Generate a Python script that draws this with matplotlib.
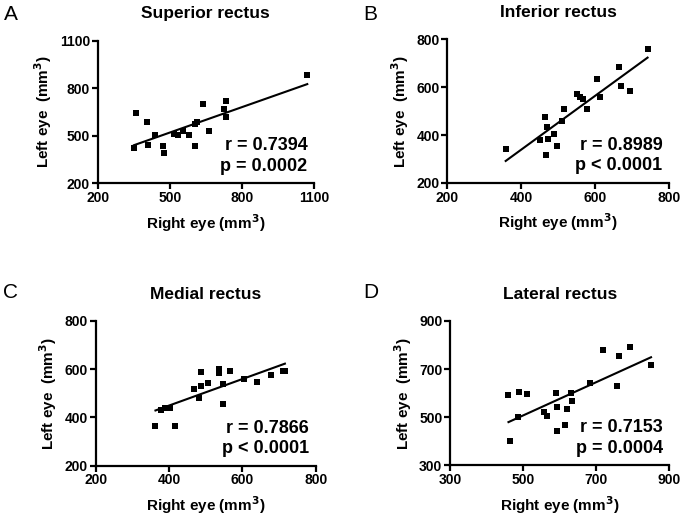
import numpy as np
import matplotlib
matplotlib.use("Agg")
import matplotlib.pyplot as plt

plt.rcParams['font.family'] = ['Liberation Sans', 'DejaVu Sans']

# Superior rectus
sr_right = [351, 361, 404, 408, 438, 470, 477, 516, 535, 556, 578, 604, 603, 615, 640, 664, 725, 734, 732, 1072]
sr_left = [425, 646, 587, 442, 505, 438, 389, 511, 503, 530, 503, 438, 574, 587, 698, 532, 667, 721, 621, 881]

# Inferior rectus
ir_right = [358, 465, 469, 451, 473, 488, 497, 467, 510, 516, 551, 558, 567, 578, 605, 613, 664, 669, 695, 742]
ir_left = [343, 474, 435, 380, 384, 403, 355, 318, 460, 508, 570, 561, 551, 511, 636, 561, 683, 606, 586, 758]

# Medial rectus
mr_right = [363, 377, 389, 403, 415, 469, 483, 488, 505, 486, 535, 535, 566, 548, 548, 605, 641, 678, 712, 716]
mr_left = [365, 429, 441, 438, 365, 517, 482, 531, 542, 590, 601, 583, 592, 539, 456, 558, 548, 576, 594, 594]

# Lateral rectus
lr_right = [460, 465, 485, 488, 512, 556, 566, 589, 593, 593, 615, 619, 632, 634, 684, 718, 756, 763, 793, 850]
lr_left = [592, 403, 499, 603, 596, 520, 507, 599, 543, 442, 468, 533, 600, 568, 643, 779, 628, 755, 791, 716]

titles = ['Superior rectus', 'Inferior rectus', 'Medial rectus', 'Lateral rectus']
letters = ['A', 'B', 'C', 'D']
stats = ['r = 0.7394\np = 0.0002', 'r = 0.8989\np < 0.0001',
         'r = 0.7866\np < 0.0001', 'r = 0.7153\np = 0.0004']
xticks = [[200, 500, 800, 1100], [200, 400, 600, 800], [200, 400, 600, 800], [300, 500, 700, 900]]
yticks = [[200, 500, 800, 1100], [200, 400, 600, 800], [200, 400, 600, 800], [300, 500, 700, 900]]
data = [(sr_right, sr_left), (ir_right, ir_left), (mr_right, mr_left), (lr_right, lr_left)]

W, H = 685, 517
fig = plt.figure(figsize=(W / 100, H / 100), dpi=100)

# axes boxes in pixels: left, top, right, bottom
boxes = [(97.7, 40.7, 314, 183.3), (447.3, 39.3, 669, 183),
         (95.7, 321, 315.7, 465.7), (450, 321, 669.3, 465.3)]
letter_pos = [(4, 14), (363, 14), (3, 292), (363, 292)]

for i in range(4):
    l, t, r, b = boxes[i]
    ax = fig.add_axes([l / W, 1 - b / H, (r - l) / W, (b - t) / H])
    x = np.array(data[i][0])
    y = np.array(data[i][1])
    ax.scatter(x, y, marker='s', s=18, color='black', zorder=3, linewidths=0)
    k, c = np.polyfit(x, y, 1)
    xs = np.array([x.min(), x.max()])
    ax.plot(xs, k * xs + c, color='black', lw=1.5)

    ax.set_xlim(xticks[i][0], xticks[i][-1])
    ax.set_ylim(yticks[i][0], yticks[i][-1])
    ax.set_xticks(xticks[i])
    ax.set_yticks(yticks[i])
    for s in ['top', 'right']:
        ax.spines[s].set_visible(False)
    for s in ['left', 'bottom']:
        ax.spines[s].set_linewidth(1.6)
    ax.tick_params(width=1.6, length=4, labelsize=10, pad=1.5)
    for lab in ax.get_xticklabels() + ax.get_yticklabels():
        lab.set_fontweight('bold')

    ax.set_xlabel('Right eye (mm$^\\mathbf{3}$)', fontsize=11, fontweight='bold', labelpad=5)
    ax.set_ylabel('Left eye  (mm$^\\mathbf{3}$)', fontsize=11, fontweight='bold', labelpad=4)
    ax.set_title(titles[i], fontsize=12.5, fontweight='bold', pad=16)
    ax.text(0.97, 0.06, stats[i], transform=ax.transAxes, ha='right', va='bottom',
            fontsize=13, fontweight='bold', linespacing=1.25)

    lx, ly = letter_pos[i]
    fig.text(lx / W, 1 - ly / H, letters[i], fontsize=15, va='center', ha='left')

fig.savefig('out.png', dpi=100)
